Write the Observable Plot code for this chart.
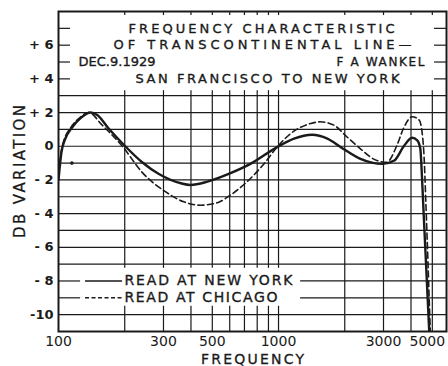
<!DOCTYPE html>
<html><head><meta charset="utf-8">
<script src="https://cdn.jsdelivr.net/npm/d3@7"></script>
<script src="https://cdn.jsdelivr.net/npm/@observablehq/plot@0.6"></script>
<style>body{margin:0;background:#fff;overflow:hidden}</style>
</head><body><div id="chart"></div>
<script>
// ---- data ----
const xTickValues = [100, 300, 500, 1000, 3000, 5000];
const yTickValues = [-10, -8, -6, -4, -2, 0, 2, 4, 6];
const yTickLabels = ["-10", "- 8", "- 6", "- 4", "- 2", "0", "+ 2", "+ 4", "+ 6"];
const gridFreqsOpen = [2000, 3000, 4000, 5000];
const gridFreqsLegend = [200, 300, 400, 500, 600, 700, 800, 900, 1000];
const gridLevelsFull = [-10, -7, -6, -5, -4, -3, -2, -1, 0, 1, 2, 3];
const gridLevelsLegend = [-9, -8];
const edgeTickLevels = [4, 5, 6, 7];

const newYorkFreq = [100, 103, 107, 115, 126, 140, 150, 169, 201, 240, 286, 360, 398, 476, 605, 745, 985, 1176, 1420, 1667, 1940, 2356, 2969, 3358, 3710, 4050, 4270, 4410, 4490, 4570, 4850];
const newYorkDb   = [-2.0, -0.4, 0.4, 1.1, 1.67, 2.0, 1.85, 1.05, 0, -0.95, -1.65, -2.2, -2.3, -2.1, -1.6, -1.05, -0.05, 0.45, 0.68, 0.45, -0.1, -0.75, -1.05, -0.85, 0, 0.5, 0.35, -0.15, -1.9, -4.1, -11.2];
const chicagoFreq = [100, 104, 115, 125, 137, 158, 195, 240, 306, 371, 442, 528, 605, 720, 858, 985, 1135, 1400, 1549, 1785, 2049, 2356, 2800, 3105, 3440, 3710, 4050, 4360, 4490, 4600, 4660, 4900];
const chicagoDb   = [-1.6, 0, 1.2, 1.7, 2.0, 1.25, 0, -1.55, -2.7, -3.3, -3.5, -3.35, -2.9, -2.1, -1.05, -0.05, 0.75, 1.35, 1.45, 1.25, 0.55, -0.15, -0.85, -0.95, 0, 1.1, 1.75, 1.55, 0.85, -0.95, -2.9, -11.2];
const strayPointFreq = [115];
const strayPointDb = [-1.0];

const titleLines = ["FREQUENCY CHARACTERISTIC", "OF TRANSCONTINENTAL LINE—", "DEC.9.1929", "F A WANKEL", "SAN FRANCISCO TO NEW YORK"];
const seriesNames = ["READ AT NEW YORK", "READ AT CHICAGO"];
const xLabel = "FREQUENCY";
const yLabel = "DB VARIATION";

// ---- tables ----
const newYork = newYorkFreq.map((f, i) => ({f, db: newYorkDb[i]}));
const chicago = chicagoFreq.map((f, i) => ({f, db: chicagoDb[i]}));
const stray = strayPointFreq.map((f, i) => ({f, db: strayPointDb[i]}));
const allGridFreqs = gridFreqsLegend.concat(gridFreqsOpen);

const ink = "#1a1a1a";
const font = "DejaVu Sans";
const letter = {fill: ink, stroke: ink, strokeWidth: 0.35};

const chart = Plot.plot({
  width: 448, height: 366,
  marginLeft: 58, marginRight: 2, marginTop: 11, marginBottom: 35,
  style: {fontFamily: font, background: "white", color: ink},
  x: {type: "log", domain: [100, 5800]},
  y: {domain: [-11, 8]},
  marks: [
    // vertical grid
    Plot.ruleX(gridFreqsOpen, {x: d => d, y1: -11, y2: 3.3, stroke: ink, strokeWidth: 1.2}),
    Plot.ruleX(gridFreqsLegend, {x: d => d, y1: -11, y2: -9.5, stroke: ink, strokeWidth: 1.2}),
    Plot.ruleX(gridFreqsLegend, {x: d => d, y1: -7.25, y2: 3.3, stroke: ink, strokeWidth: 1.2}),
    Plot.ruleX(allGridFreqs, {x: d => d, y1: 8, y2: 7.76, stroke: ink, strokeWidth: 1.2}),
    // horizontal grid
    Plot.ruleY(gridLevelsFull, {y: d => d, stroke: ink, strokeWidth: 1.2}),
    Plot.ruleY(gridLevelsLegend, {y: d => d, x1: 100, x2: 126, stroke: ink, strokeWidth: 1.2}),
    Plot.ruleY(gridLevelsLegend, {y: d => d, x1: 1260, x2: 5800, stroke: ink, strokeWidth: 1.2}),
    Plot.ruleY(edgeTickLevels, {y: d => d, x1: 100, x2: 113.4, stroke: ink, strokeWidth: 1.2}),
    Plot.ruleY(edgeTickLevels, {y: d => d, x1: 5115, x2: 5800, stroke: ink, strokeWidth: 1.2}),
    // curves
    Plot.line(chicago, {x: "f", y: "db", stroke: ink, strokeWidth: 1.6, strokeDasharray: "6,3.5", curve: "monotone-x", clip: true}),
    Plot.line(newYork, {x: "f", y: "db", stroke: ink, strokeWidth: 2.4, curve: "monotone-x", clip: true}),
    Plot.dot(stray, {x: "f", y: "db", r: 1.8, fill: ink, stroke: null}),
    // title block
    Plot.text([titleLines[0]], {x: 837, y: 7, text: d => d, textAnchor: "middle", fontSize: 13, ...letter}),
    Plot.text([titleLines[1]], {x: 846, y: 6, text: d => d, textAnchor: "middle", fontSize: 13, ...letter}),
    Plot.text([titleLines[2]], {x: 123.3, y: 5, text: d => d, textAnchor: "start", fontSize: 13, ...letter}),
    Plot.text([titleLines[3]], {x: 4606, y: 5, text: d => d, textAnchor: "end", fontSize: 12, ...letter}),
    Plot.text([titleLines[4]], {x: 891, y: 4, text: d => d, textAnchor: "middle", fontSize: 13, ...letter}),
    // legend
    Plot.ruleY([seriesNames[0]], {y: -8, x1: 132.7, x2: 195.5, stroke: ink, strokeWidth: 1.6}),
    Plot.ruleY([seriesNames[1]], {y: -9, x1: 132.7, x2: 195.5, stroke: ink, strokeWidth: 1.6, strokeDasharray: "4,2.5"}),
    Plot.text([seriesNames[0]], {x: 199.5, y: -8, text: d => d, textAnchor: "start", fontSize: 14, ...letter}),
    Plot.text([seriesNames[1]], {x: 199.5, y: -9, text: d => d, textAnchor: "start", fontSize: 14, ...letter}),
    // axes
    Plot.axisX({ticks: xTickValues, tickFormat: d => String(d), tickSize: 0, tickPadding: 5,
      label: xLabel, labelAnchor: "center", labelOffset: 32, labelArrow: "none", fontSize: 14}),
    Plot.axisY({ticks: yTickValues, tickFormat: d => yTickLabels[yTickValues.indexOf(d)], tickSize: 0, tickPadding: 5,
      label: yLabel, labelAnchor: "center", labelOffset: 44, labelArrow: "none", fontSize: 13, fontWeight: "bold"}),
    Plot.frame({stroke: ink, strokeWidth: 2})
  ]
});
document.getElementById("chart").appendChild(chart);

// fit lettering widths to the hand-lettered originals
const lengths = {
  "FREQUENCY CHARACTERISTIC": 266, "OF TRANSCONTINENTAL LINE—": 298, "DEC.9.1929": 77,
  "F A WANKEL": 88, "SAN FRANCISCO TO NEW YORK": 264,
  "READ AT NEW YORK": 168, "READ AT CHICAGO": 153, "FREQUENCY": 103, "DB VARIATION": 133
};
d3.select(chart).selectAll("text").each(function() {
  const t = this.textContent.trim();
  if (lengths[t]) { this.setAttribute("textLength", lengths[t]); this.setAttribute("lengthAdjust", "spacing"); }
});
d3.select(chart).selectAll('g[aria-label="y-axis label"]')
  .attr("font-weight", "normal").attr("font-size", 15)
  .attr("stroke", ink).attr("stroke-width", 0.3);
d3.select(chart).selectAll('g[aria-label="x-axis label"]')
  .attr("font-weight", "normal").attr("font-size", 14)
  .attr("stroke", ink).attr("stroke-width", 0.3);
d3.select(chart).selectAll('g[aria-label="x-axis tick label"] text')
  .filter(function() { return this.textContent.trim() === "5000"; })
  .attr("dx", -5);
</script>
</body></html>
